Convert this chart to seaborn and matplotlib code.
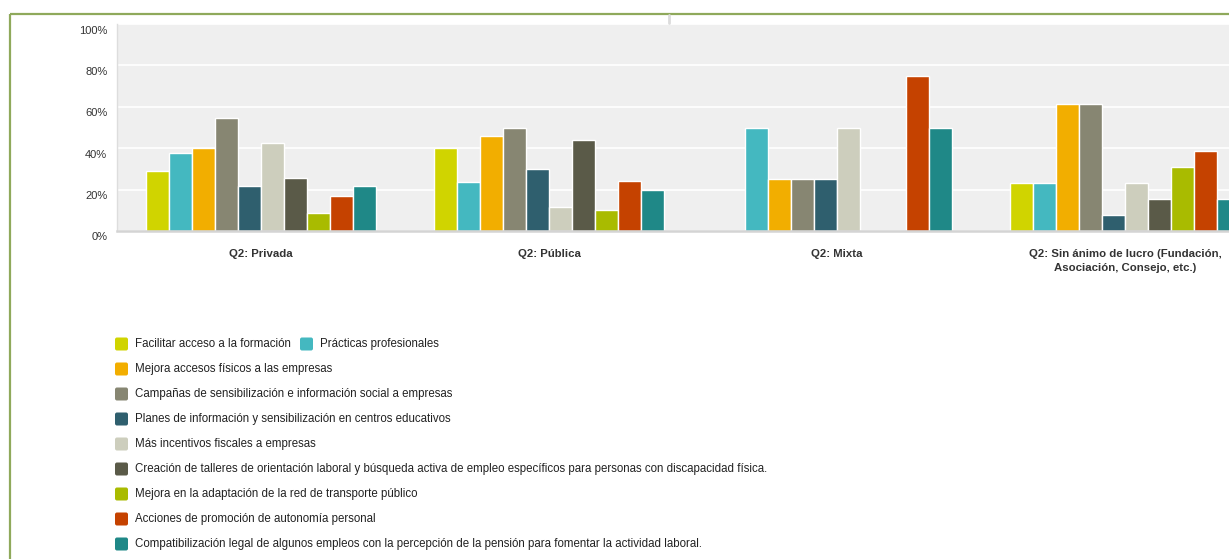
import matplotlib
matplotlib.use("Agg")
import matplotlib.pyplot as plt
import matplotlib.transforms as mtransforms
from matplotlib.patches import FancyBboxPatch, Rectangle
from matplotlib.lines import Line2D
from matplotlib.ticker import FuncFormatter
import seaborn as sns
import pandas as pd

# groups (x axis)
grupos = ['Q2: Privada', 'Q2: Pública', 'Q2: Mixta',
          'Q2: Sin ánimo de lucro (Fundación,\nAsociación, Consejo, etc.)']

# answer options (hue)
opciones = [
    'Facilitar acceso a la formación',
    'Prácticas profesionales',
    'Mejora accesos físicos a las empresas',
    'Campañas de sensibilización e información social a empresas',
    'Planes de información y sensibilización en centros educativos',
    'Más incentivos fiscales a empresas',
    'Creación de talleres de orientación laboral y búsqueda activa de empleo específicos para personas con discapacidad física.',
    'Mejora en la adaptación de la red de transporte público',
    'Acciones de promoción de autonomía personal',
    'Compatibilización legal de algunos empleos con la percepción de la pensión para fomentar la actividad laboral.',
]

colores = ['#d0d400', '#44b8c0', '#f2ae00', '#878672', '#2f5f6e',
           '#cdcebd', '#5a5a48', '#a9bb00', '#c54200', '#1f8887']

# percentages per option, one value per group
privada = [29, 37.5, 40, 54.5, 21.5, 42.5, 25.5, 8.5, 17, 21.5]
publica = [40, 23.5, 46, 50, 30, 11.5, 44, 10, 24, 20]
mixta = [0, 50, 25, 25, 25, 50, 0, 0, 75, 50]
sin_animo = [23.1, 23.1, 61.5, 61.5, 7.7, 23.1, 15.4, 30.8, 38.5, 15.4]

yticks = [0, 20, 40, 60, 80, 100]

rows = []
for g, vals in zip(grupos, [privada, publica, mixta, sin_animo]):
    for o, v in zip(opciones, vals):
        rows.append({'grupo': g, 'opcion': o, 'valor': v})
df = pd.DataFrame(rows)

sns.set_style("whitegrid")
plt.rcParams['font.family'] = ['Liberation Sans', 'DejaVu Sans']

W, H = 1229, 559
fig = plt.figure(figsize=(W / 100, H / 100), dpi=100)
fig.patch.set_facecolor('white')

# plot area runs past the right edge like in the original screenshot
ax = fig.add_axes([117 / W, (H - 231) / H, 1152 / W, 207 / H])
ax.set_facecolor('#efefef')

sns.barplot(data=df, x='grupo', y='valor', hue='opcion', palette=colores,
            hue_order=opciones, order=grupos, width=0.8, saturation=1,
            edgecolor='white', linewidth=1, legend=False, ax=ax)

ax.set_xlim(-0.5, 3.5)
ax.set_ylim(0, 100)
ax.set_yticks(yticks)
ax.yaxis.set_major_formatter(FuncFormatter(lambda v, p: f'{int(v)}%'))
ax.grid(axis='y', color='white', linewidth=1.2)
ax.grid(axis='x', visible=False)
ax.set_xlabel('')
ax.set_ylabel('')
ax.tick_params(axis='both', length=0)
ax.tick_params(axis='y', pad=7, labelsize=8, labelcolor='#333333')
ax.tick_params(axis='x', pad=13, labelsize=8.2, labelcolor='#333333')
for lab in ax.get_xticklabels():
    lab.set_fontweight('bold')
    lab.set_linespacing(1.45)
for lab in ax.get_yticklabels():
    lab.set_transform(lab.get_transform() +
                      mtransforms.ScaledTranslation(0, -0.055, fig.dpi_scale_trans))

for s in ['top', 'right']:
    ax.spines[s].set_visible(False)
ax.spines['left'].set_color('#dddddd')
ax.spines['left'].set_linewidth(1)
ax.spines['bottom'].set_color('#d4d4d4')
ax.spines['bottom'].set_linewidth(1.8)

# pixel transform (origin at top-left)
px = mtransforms.Affine2D().scale(1 / 100, -1 / 100).translate(0, H / 100) + fig.dpi_scale_trans

# green frame
fig.add_artist(Rectangle((10, 14), 1400, 700, fill=False, edgecolor='#8fa95b',
                         linewidth=1.6, transform=px))
fig.add_artist(Line2D([669, 669], [15, 23], color='#dcdcdc', linewidth=2, transform=px))

# legend (first row holds two entries)
leg_pos = [(115, 344), (300, 344), (115, 369), (115, 394), (115, 419),
           (115, 444), (115, 469), (115, 494), (115, 519), (115, 544)]
for (x, y), label, c in zip(leg_pos, opciones, colores):
    fig.add_artist(FancyBboxPatch((x, y - 6.5), 13, 13,
                                  boxstyle='round,pad=0,rounding_size=2',
                                  facecolor=c, edgecolor='none', transform=px))
    fig.text(x + 20, y, label, transform=px, ha='left', va='center',
             fontsize=8.3, color='#222222')

plt.savefig('out.png', dpi=100)
